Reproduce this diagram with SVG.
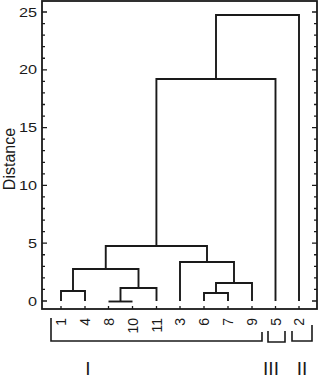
<svg xmlns="http://www.w3.org/2000/svg" width="320" height="379" viewBox="0 0 320 379">
<style>
.ax{fill:none;stroke:#1a1a1a;stroke-width:1.8}
.tk{fill:none;stroke:#1a1a1a;stroke-width:1.3}
.dg{fill:none;stroke:#1a1a1a;stroke-width:1.9}
.br{fill:none;stroke:#1a1a1a;stroke-width:1.6}
.yl{font-family:"Liberation Sans",Arial,sans-serif;font-size:13px;fill:#1a1a1a;text-anchor:end}
.lf{font-family:"Liberation Sans",Arial,sans-serif;font-size:14px;fill:#1a1a1a;text-anchor:end}
.ti{font-family:"Liberation Sans",Arial,sans-serif;font-size:16px;fill:#1a1a1a;text-anchor:middle}
.rn{font-family:"Liberation Sans",Arial,sans-serif;font-size:19px;fill:#1a1a1a;text-anchor:middle}
</style>
<rect width="320" height="379" fill="#fff"/>
<g id="axes">
<rect class="ax" x="42" y="1" width="275" height="308"/>
<path class="tk" d="M42,301h5M42,289.44h3M42,277.88h3M42,266.32h3M42,254.76h3M42,243.2h5M42,231.64h3M42,220.08h3M42,208.52h3M42,196.96h3M42,185.4h5M42,173.84h3M42,162.28h3M42,150.72h3M42,139.16h3M42,127.6h5M42,116.04h3M42,104.48h3M42,92.92h3M42,81.36h3M42,69.8h5M42,58.24h3M42,46.68h3M42,35.12h3M42,23.56h3M42,12h5"/>
<path class="tk" d="M317,301h-5M317,289.44h-3M317,277.88h-3M317,266.32h-3M317,254.76h-3M317,243.2h-5M317,231.64h-3M317,220.08h-3M317,208.52h-3M317,196.96h-3M317,185.4h-5M317,173.84h-3M317,162.28h-3M317,150.72h-3M317,139.16h-3M317,127.6h-5M317,116.04h-3M317,104.48h-3M317,92.92h-3M317,81.36h-3M317,69.8h-5M317,58.24h-3M317,46.68h-3M317,35.12h-3M317,23.56h-3M317,12h-5"/>
<path class="tk" d="M61,309v-3M85,309v-3M108.5,309v-3M132.5,309v-3M156.5,309v-3M180,309v-3M204,309v-3M228,309v-3M252,309v-3M275.5,309v-3M299,309v-3"/>
<text class="yl" transform="translate(37,16.5) scale(1.25,1)">25</text>
<text class="yl" transform="translate(37,74.3) scale(1.25,1)">20</text>
<text class="yl" transform="translate(37,132.1) scale(1.25,1)">15</text>
<text class="yl" transform="translate(37,189.9) scale(1.25,1)">10</text>
<text class="yl" transform="translate(37,247.7) scale(1.25,1)">5</text>
<text class="yl" transform="translate(37,305.5) scale(1.25,1)">0</text>
<text class="ti" transform="translate(15,159) rotate(-90)">Distance</text>
</g>
<g id="connectors">
<path class="dg" d="M61,301V291H85V301"/>
<path class="dg" d="M108.5,301.5H132.5"/>
<path class="dg" d="M120.5,301.5V288H156.5V301"/>
<path class="dg" d="M73,291V269H138.5V288"/>
<path class="dg" d="M204,301V293H228V301"/>
<path class="dg" d="M216,293V283H252V301"/>
<path class="dg" d="M180,301V262H234V283"/>
<path class="dg" d="M105.75,269V246H207V262"/>
<path class="dg" d="M156.4,246V79H275.5V301"/>
<path class="dg" d="M216,79V15H299V301"/>
</g>
<g id="leaves">
<text class="lf" transform="translate(66,318) rotate(-90)">1</text>
<text class="lf" transform="translate(90,318) rotate(-90)">4</text>
<text class="lf" transform="translate(113.5,318) rotate(-90)">8</text>
<text class="lf" transform="translate(137.5,318) rotate(-90)">10</text>
<text class="lf" transform="translate(161.5,318) rotate(-90)">11</text>
<text class="lf" transform="translate(185,318) rotate(-90)">3</text>
<text class="lf" transform="translate(209,318) rotate(-90)">6</text>
<text class="lf" transform="translate(233,318) rotate(-90)">7</text>
<text class="lf" transform="translate(257,318) rotate(-90)">9</text>
<text class="lf" transform="translate(280.5,318) rotate(-90)">5</text>
<text class="lf" transform="translate(304,318) rotate(-90)">2</text>
</g>
<g id="group-I">
<path class="br" d="M51,318V341H262V332"/>
<text class="rn" x="88" y="375">I</text>
</g>
<g id="group-III">
<path class="br" d="M268,331V342H285V331"/>
<text class="rn" x="271" y="375">III</text>
</g>
<g id="group-II">
<path class="br" d="M292,331V341H312V325"/>
<text class="rn" x="302" y="375">II</text>
</g>
</svg>
